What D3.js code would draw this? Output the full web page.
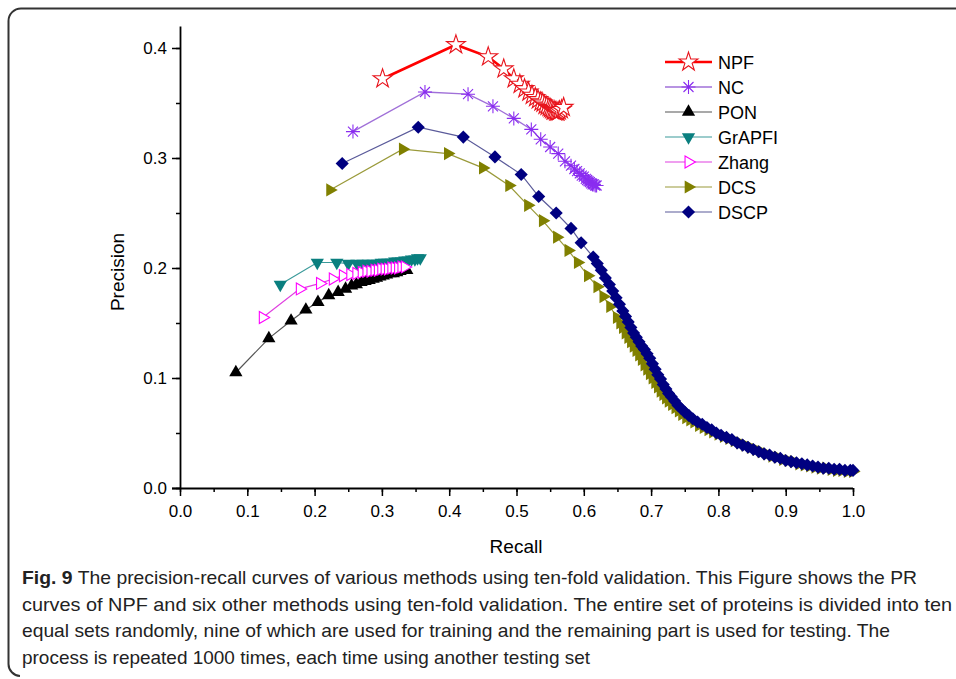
<!DOCTYPE html>
<html>
<head>
<meta charset="utf-8">
<script src="https://cdn.jsdelivr.net/npm/d3@7"></script>
<style>
  body { margin: 0; background: #fff; }
  svg text { font-family: "Liberation Sans", Arial, sans-serif; }
</style>
</head>
<body>
<div class="canvas"></div>
<script>
// series values (recall, precision)
const npfRecall = [0.301, 0.410, 0.458, 0.481, 0.496, 0.505, 0.512, 0.518, 0.523, 0.528, 0.532, 0.536, 0.539, 0.542, 0.545, 0.548, 0.550, 0.552, 0.554, 0.556, 0.558, 0.560, 0.562, 0.564, 0.567, 0.570]
const npfPrec   = [0.372, 0.403, 0.392, 0.381, 0.372, 0.367, 0.363, 0.360, 0.357, 0.355, 0.353, 0.351, 0.350, 0.348, 0.347, 0.346, 0.345, 0.344, 0.343, 0.343, 0.342, 0.342, 0.342, 0.343, 0.344, 0.346]

const ncRecall = [0.257, 0.364, 0.428, 0.465, 0.496, 0.522, 0.536, 0.550, 0.562, 0.572, 0.581, 0.586, 0.590, 0.594, 0.597, 0.600, 0.603, 0.605, 0.607, 0.609, 0.611, 0.613, 0.615, 0.617, 0.619]
const ncPrec   = [0.324, 0.360, 0.358, 0.347, 0.336, 0.326, 0.317, 0.310, 0.304, 0.297, 0.293, 0.290, 0.288, 0.286, 0.284, 0.283, 0.281, 0.280, 0.279, 0.278, 0.277, 0.276, 0.276, 0.275, 0.275]

const ponRecall = [0.083, 0.132, 0.165, 0.187, 0.205, 0.221, 0.235, 0.246, 0.255, 0.262, 0.269, 0.275, 0.281, 0.287, 0.292, 0.297, 0.302, 0.307, 0.312, 0.317, 0.322, 0.327, 0.332, 0.337]
const ponPrec   = [0.105, 0.136, 0.152, 0.162, 0.169, 0.175, 0.178, 0.181, 0.184, 0.185, 0.187, 0.188, 0.189, 0.190, 0.191, 0.192, 0.193, 0.194, 0.195, 0.195, 0.196, 0.197, 0.198, 0.198]

const grapfiRecall = [0.149, 0.204, 0.233, 0.250, 0.263, 0.272, 0.280, 0.287, 0.293, 0.299, 0.304, 0.309, 0.314, 0.319, 0.324, 0.329, 0.334, 0.339, 0.344, 0.349, 0.353, 0.357]
const grapfiPrec   = [0.185, 0.205, 0.205, 0.204, 0.204, 0.204, 0.204, 0.204, 0.204, 0.205, 0.205, 0.205, 0.205, 0.206, 0.206, 0.206, 0.207, 0.207, 0.208, 0.208, 0.209, 0.209]

const zhangRecall = [0.123, 0.178, 0.208, 0.227, 0.242, 0.253, 0.262, 0.270, 0.277, 0.283, 0.289, 0.294, 0.299, 0.304, 0.309, 0.314, 0.319, 0.324, 0.329, 0.334]
const zhangPrec   = [0.155, 0.181, 0.186, 0.190, 0.193, 0.194, 0.195, 0.196, 0.197, 0.197, 0.198, 0.198, 0.199, 0.199, 0.199, 0.200, 0.200, 0.200, 0.201, 0.201]

const dcsRecall = [0.223, 0.331, 0.398, 0.450, 0.489, 0.517, 0.539, 0.560, 0.577, 0.591, 0.606, 0.620, 0.629, 0.639, 0.649, 0.654, 0.658, 0.662, 0.666,
                   0.670, 0.674, 0.678, 0.682, 0.686, 0.690, 0.694, 0.698, 0.702, 0.706, 0.710, 0.714, 0.718, 0.722, 0.726, 0.731, 0.736, 0.741,
                   0.746, 0.752, 0.758, 0.764, 0.771, 0.778, 0.785, 0.792, 0.800, 0.808, 0.816, 0.824, 0.832, 0.840, 0.848, 0.856, 0.864, 0.872,
                   0.880, 0.888, 0.896, 0.904, 0.912, 0.920, 0.928, 0.936, 0.944, 0.952, 0.960, 0.968, 0.976, 0.984, 0.992, 1.000]
const dcsPrec   = [0.271, 0.308, 0.304, 0.291, 0.275, 0.257, 0.243, 0.228, 0.216, 0.205, 0.193, 0.183, 0.174, 0.165, 0.155, 0.150, 0.146, 0.141, 0.137,
                   0.133, 0.129, 0.125, 0.121, 0.117, 0.112, 0.108, 0.104, 0.100, 0.096, 0.092, 0.088, 0.085, 0.082, 0.079, 0.076, 0.073, 0.070,
                   0.067, 0.064, 0.062, 0.060, 0.057, 0.055, 0.053, 0.051, 0.049, 0.047, 0.045, 0.043, 0.041, 0.039, 0.037, 0.035, 0.033, 0.031,
                   0.029, 0.028, 0.026, 0.025, 0.024, 0.022, 0.021, 0.020, 0.019, 0.018, 0.018, 0.017, 0.016, 0.016, 0.015, 0.015]

const dscpRecall = [0.241, 0.354, 0.421, 0.468, 0.507, 0.533, 0.559, 0.581, 0.596, 0.614, 0.620, 0.626, 0.632, 0.638, 0.643, 0.648, 0.653, 0.658,
                    0.662, 0.666, 0.670, 0.674, 0.678, 0.682, 0.686, 0.690, 0.694, 0.698, 0.702, 0.706, 0.710, 0.714, 0.718, 0.722, 0.726, 0.730,
                    0.735, 0.740, 0.745, 0.750, 0.756, 0.762, 0.769, 0.776, 0.783, 0.790, 0.797, 0.804, 0.812, 0.820, 0.828, 0.836, 0.844, 0.852,
                    0.860, 0.868, 0.876, 0.884, 0.892, 0.900, 0.908, 0.916, 0.924, 0.932, 0.940, 0.948, 0.956, 0.964, 0.972, 0.980, 0.988, 0.996, 1.000]
const dscpPrec   = [0.295, 0.328, 0.319, 0.301, 0.285, 0.265, 0.250, 0.236, 0.223, 0.210, 0.204, 0.198, 0.191, 0.185, 0.179, 0.173, 0.167, 0.161,
                    0.156, 0.151, 0.146, 0.141, 0.137, 0.133, 0.129, 0.126, 0.122, 0.118, 0.113, 0.108, 0.103, 0.099, 0.094, 0.090, 0.086, 0.083,
                    0.079, 0.075, 0.072, 0.069, 0.066, 0.063, 0.060, 0.058, 0.055, 0.053, 0.050, 0.048, 0.046, 0.044, 0.041, 0.039, 0.037, 0.035,
                    0.033, 0.031, 0.030, 0.028, 0.027, 0.025, 0.024, 0.023, 0.022, 0.021, 0.020, 0.019, 0.018, 0.018, 0.017, 0.017, 0.016, 0.016, 0.016]

const methods = ['NPF', 'NC', 'PON', 'GrAPFI', 'Zhang', 'DCS', 'DSCP']
const xTicks = [0.0, 0.1, 0.2, 0.3, 0.4, 0.5, 0.6, 0.7, 0.8, 0.9, 1.0]
const yTicks = [0.0, 0.1, 0.2, 0.3, 0.4]

const captionLines = [
  'The precision-recall curves of various methods using ten-fold validation. This Figure shows the PR',
  'curves of NPF and six other methods using ten-fold validation. The entire set of proteins is divided into ten',
  'equal sets randomly, nine of which are used for training and the remaining part is used for testing. The',
  'process is repeated 1000 times, each time using another testing set'
]

const zip = (xs, ys) => xs.map((x, i) => ({x: x, y: ys[i]}))

// style per series
const series = [
  {name: methods[0], pts: zip(npfRecall, npfPrec),       line: '#ff0000', lw: 2.6, mark: 'star',  fill: '#fff',    stroke: '#e8141c'},
  {name: methods[1], pts: zip(ncRecall, ncPrec),         line: '#a070d8', lw: 1.3, mark: 'ast',   fill: 'none',    stroke: '#8a2cf0'},
  {name: methods[2], pts: zip(ponRecall, ponPrec),       line: '#555555', lw: 1.2, mark: 'up',    fill: '#000',    stroke: 'none'},
  {name: methods[3], pts: zip(grapfiRecall, grapfiPrec), line: '#3a9a9a', lw: 1.2, mark: 'down',  fill: '#0a7f7f', stroke: 'none'},
  {name: methods[4], pts: zip(zhangRecall, zhangPrec),   line: '#e040e0', lw: 1.2, mark: 'rightO',fill: '#fff',    stroke: '#ff00ff'},
  {name: methods[5], pts: zip(dcsRecall, dcsPrec),       line: '#9a9a3a', lw: 1.2, mark: 'right', fill: '#808000', stroke: 'none'},
  {name: methods[6], pts: zip(dscpRecall, dscpPrec),     line: '#5a5a9a', lw: 1.2, mark: 'diam',  fill: '#000080', stroke: 'none'}
]

const width = 956, height = 679
const svg = d3.select('.canvas')
  .append('svg')
  .attr('width', width)
  .attr('height', height)

// frame around figure + caption
svg.append('path')
  .attr('d', 'M956,8.5 L21,8.5 A12.5,12.5 0 0 0 8.5,21 L8.5,664 A12,12 0 0 0 20,676')
  .attr('fill', 'none')
  .attr('stroke', '#333')
  .attr('stroke-width', 2)

const x = d3.scaleLinear().domain([0, 1]).range([180, 853])
const y = d3.scaleLinear().domain([0, 0.42]).range([488, 26])

// axes, major + minor ticks
const xMinor = d3.range(0, 1.0001, 0.05)
const yMinor = d3.range(0, 0.4201, 0.05)

svg.append('g')
  .attr('transform', 'translate(0,488)')
  .call(d3.axisBottom(x).tickValues(xMinor).tickSize(4).tickFormat(''))
  .call(g => g.select('.domain').remove())
  .selectAll('line').attr('stroke-width', 1.5)

const xAxis = svg.append('g')
  .attr('transform', 'translate(0,488)')
  .call(d3.axisBottom(x).tickValues(xTicks).tickSize(8).tickSizeOuter(0).tickPadding(9).tickFormat(d3.format('.1f')))
xAxis.select('.domain').attr('stroke-width', 1.8).attr('d', 'M172,0.5H853')
xAxis.selectAll('line').attr('stroke-width', 1.5)
xAxis.selectAll('text').attr('font-size', 17).attr('fill', '#000')

svg.append('g')
  .attr('transform', 'translate(180,0)')
  .call(d3.axisLeft(y).tickValues(yMinor).tickSize(4).tickFormat(''))
  .call(g => g.select('.domain').remove())
  .selectAll('line').attr('stroke-width', 1.5)

const yAxis = svg.append('g')
  .attr('transform', 'translate(180,0)')
  .call(d3.axisLeft(y).tickValues(yTicks).tickSize(8).tickSizeOuter(0).tickPadding(5).tickFormat(d3.format('.1f')))
yAxis.select('.domain').attr('stroke-width', 1.8)
yAxis.selectAll('line').attr('stroke-width', 1.5)
yAxis.selectAll('text').attr('font-size', 17).attr('fill', '#000')

svg.append('text')
  .attr('x', 516).attr('y', 553)
  .attr('text-anchor', 'middle')
  .attr('font-size', 19)
  .text('Recall')

svg.append('text')
  .attr('transform', 'translate(124,272) rotate(-90)')
  .attr('text-anchor', 'middle')
  .attr('font-size', 19)
  .text('Precision')

// marker shapes
const triPath = d3.symbol().type(d3.symbolTriangle).size(76)()
const markPath = {
  star: d3.symbol().type(d3.symbolStar).size(110)(),
  ast: 'M-7,0H7M0,-7V7M-5,-5L5,5M-5,5L5,-5',
  up: triPath,
  down: triPath,
  right: triPath,
  rightO: d3.symbol().type(d3.symbolTriangle).size(62)(),
  diam: d3.symbol().type(d3.symbolSquare).size(86)()
}
const markRot = {star: 0, ast: 0, up: 0, down: 180, right: 90, rightO: 90, diam: 45}

const line = d3.line().x(d => x(d.x)).y(d => y(d.y))

const drawMark = (sel, s) => {
  sel.append('path')
    .attr('d', markPath[s.mark])
    .attr('fill', s.fill)
    .attr('stroke', s.stroke)
    .attr('stroke-width', 1.1)
}

const graph = svg.append('g')
series.forEach(s => {
  const g = graph.append('g').attr('class', s.name)
  g.append('path')
    .attr('d', line(s.pts))
    .attr('fill', 'none')
    .attr('stroke', s.line)
    .attr('stroke-width', s.lw)
  g.selectAll('g.m')
    .data(s.pts)
    .enter()
    .append('g')
    .attr('class', 'm')
    .attr('transform', d => `translate(${x(d.x)},${y(d.y)}) rotate(${markRot[s.mark]})`)
    .each(function(d){ drawMark(d3.select(this), s) })
})

// legend
const legend = svg.append('g').attr('transform', 'translate(665,62)')
series.forEach((s, i) => {
  const row = legend.append('g').attr('transform', `translate(0,${i * 25})`)
  row.append('line')
    .attr('x1', 0).attr('x2', 47)
    .attr('stroke', s.line).attr('stroke-width', s.lw)
  const m = row.append('g').attr('transform', `translate(23.5,0) rotate(${markRot[s.mark]})`)
  drawMark(m, s)
  row.append('text')
    .attr('x', 53).attr('y', 6.5)
    .attr('font-size', 18)
    .text(s.name)
})

// caption
const caption = svg.append('g').attr('class', 'caption')
const capLens = [895, 930, 868, 568]
captionLines.forEach((t, i) => {
  const txt = caption.append('text')
    .attr('x', 22).attr('y', 584 + i * 26.7)
    .attr('font-family', '"Liberation Sans Narrow", "DejaVu Sans Condensed", sans-serif')
    .attr('font-size', 18.5)
    .attr('fill', '#222')
    .attr('textLength', capLens[i])
    .attr('lengthAdjust', 'spacingAndGlyphs')
  if (i == 0) {
    txt.append('tspan').attr('font-weight', 'bold').text('Fig. 9 ')
  }
  txt.append('tspan').text(t)
})
</script>
</body>
</html>
